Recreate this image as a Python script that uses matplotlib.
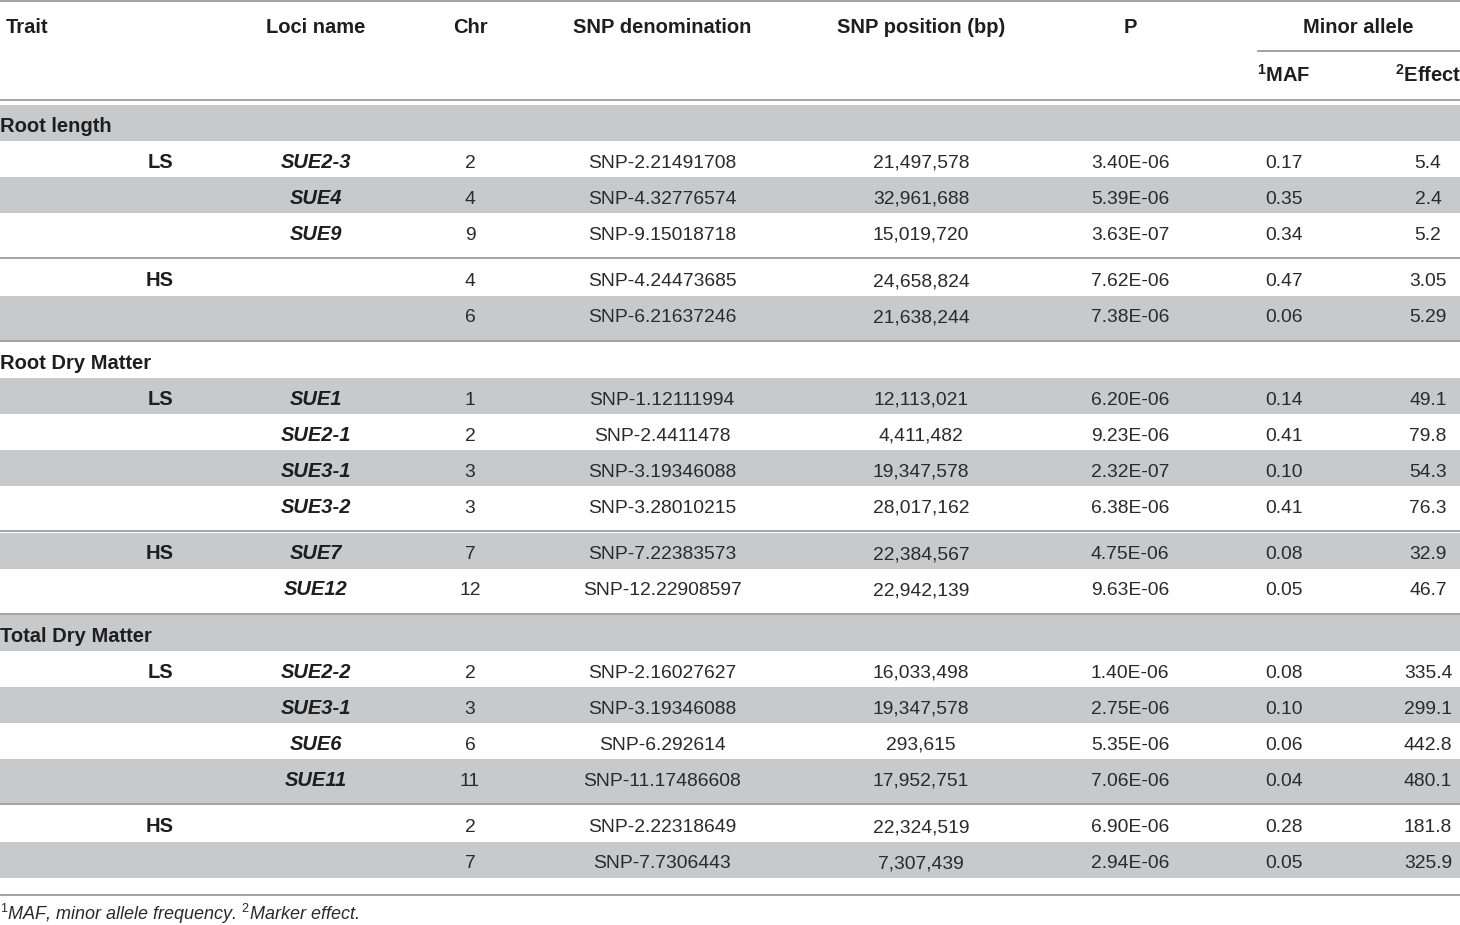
import matplotlib
matplotlib.use("Agg")
import matplotlib.pyplot as plt

# ---------------- data ----------------
traits = ["Root length", "Root Dry Matter", "Total Dry Matter"]
row_trait = (["Root length"] * 5 + ["Root Dry Matter"] * 6 + ["Total Dry Matter"] * 6)
row_env = ["LS", "LS", "LS", "HS", "HS",
           "LS", "LS", "LS", "LS", "HS", "HS",
           "LS", "LS", "LS", "LS", "HS", "HS"]
loci = ["SUE2-3", "SUE4", "SUE9", "", "",
        "SUE1", "SUE2-1", "SUE3-1", "SUE3-2", "SUE7", "SUE12",
        "SUE2-2", "SUE3-1", "SUE6", "SUE11", "", ""]
chrom = [2, 4, 9, 4, 6, 1, 2, 3, 3, 7, 12, 2, 3, 6, 11, 2, 7]
snp = ["SNP-2.21491708", "SNP-4.32776574", "SNP-9.15018718", "SNP-4.24473685",
       "SNP-6.21637246", "SNP-1.12111994", "SNP-2.4411478", "SNP-3.19346088",
       "SNP-3.28010215", "SNP-7.22383573", "SNP-12.22908597", "SNP-2.16027627",
       "SNP-3.19346088", "SNP-6.292614", "SNP-11.17486608", "SNP-2.22318649",
       "SNP-7.7306443"]
snp_pos = [21497578, 32961688, 15019720, 24658824, 21638244, 12113021, 4411482,
           19347578, 28017162, 22384567, 22942139, 16033498, 19347578, 293615,
           17952751, 22324519, 7307439]
p_vals = ["3.40E-06", "5.39E-06", "3.63E-07", "7.62E-06", "7.38E-06", "6.20E-06",
          "9.23E-06", "2.32E-07", "6.38E-06", "4.75E-06", "9.63E-06", "1.40E-06",
          "2.75E-06", "5.35E-06", "7.06E-06", "6.90E-06", "2.94E-06"]
maf = ["0.17", "0.35", "0.34", "0.47", "0.06", "0.14", "0.41", "0.10", "0.41",
       "0.08", "0.05", "0.08", "0.10", "0.06", "0.04", "0.28", "0.05"]
effect = ["5.4", "2.4", "5.2", "3.05", "5.29", "49.1", "79.8", "54.3", "76.3",
          "32.9", "46.7", "335.4", "299.1", "442.8", "480.1", "181.8", "325.9"]

headers = ["Trait", "Loci name", "Chr", "SNP denomination", "SNP position (bp)", "P"]
sub_header = "Minor allele"
sub_cols = [r"$^{\mathbf{1}}$MAF", r"$^{\mathbf{2}}$Effect"]
footnote = r"$^{\mathit{1}}$MAF, minor allele frequency. $^{\mathit{2}}$Marker effect."

# ---------------- style / layout ----------------
W, H = 1460, 925
FONT = "Liberation Sans"
plt.rcParams["mathtext.fontset"] = "custom"
plt.rcParams["mathtext.rm"] = FONT
plt.rcParams["mathtext.it"] = FONT + ":italic"
plt.rcParams["mathtext.bf"] = FONT + ":bold"
FS = 13.9
FSB = 14.5
GREY = "#c8c9cb"
LINE = "#a3a3a3"
TXT = "#2a2a2a"
BOLD = "#1e1e1e"
LW = 1.4

col_x = {"env": 160, "loci": 316, "chr": 470, "snp": 662, "pos": 921,
         "p": 1130, "maf": 1284, "eff": 1428}
header_x = [6, 316, 470, 662, 921, 1130]

# shading pattern of the 20 body rows (group rows included)
shaded = [True, False, True, False, False, True,
          False, True, False, True, False, True, False,
          True, False, True, False, True, False, True]

ROW_H = 36.0
PAD = 9.0
GAP = 1.5
TXT_OFF = 26.8  # baseline offset from row top

fig = plt.figure(figsize=(W / 100, H / 100), dpi=100)
ax = fig.add_axes([0, 0, 1, 1])
ax.set_xlim(0, W)
ax.set_ylim(H, 0)
ax.axis("off")


def put(x, y, s, ha="center", weight="normal", style="normal", color=TXT, size=FS):
    ax.text(x, y, s, ha=ha, va="baseline", fontsize=size, fontfamily=FONT,
            fontweight=weight, fontstyle=style, color=color)


# header
ax.hlines(1, 0, W, color=LINE, lw=LW)
for hx, h in zip(header_x, headers):
    put(hx, 33, h, ha="left" if h == "Trait" else "center", weight="bold",
        color=BOLD, size=FSB)
put(1358, 33, sub_header, weight="bold", color=BOLD, size=FSB)
ax.hlines(51, 1257, W, color=LINE, lw=LW)
put(col_x["maf"], 82, sub_cols[0], weight="bold", color=BOLD, size=FSB)
put(col_x["eff"], 82, sub_cols[1], weight="bold", color=BOLD, size=FSB)
ax.hlines(100, 0, W, color=LINE, lw=LW)

# body
y = 105.0
ri = 0
n = len(row_trait)
for t in traits:
    top = y
    if shaded[ri]:
        ax.axhspan(top, top + ROW_H, color=GREY, lw=0)
    put(0, top + TXT_OFF, t, ha="left", weight="bold", color=BOLD, size=FSB)
    ri += 1
    y = top + ROW_H
    idx = [i for i in range(n) if row_trait[i] == t]
    for k, i in enumerate(idx):
        top = y
        first_env = (k == 0) or (row_env[idx[k - 1]] != row_env[i])
        last_env = (k == len(idx) - 1) or (row_env[idx[k + 1]] != row_env[i])
        final = (i == n - 1)
        bottom = top + ROW_H + (PAD if (last_env and not final) else 0)
        if shaded[ri]:
            ax.axhspan(top, bottom, color=GREY, lw=0)
        ty = top + TXT_OFF
        if first_env:
            put(col_x["env"], ty, row_env[i], weight="bold", color=BOLD, size=FSB)
        if loci[i]:
            put(col_x["loci"], ty, loci[i], weight="bold", style="italic",
                color=BOLD, size=FSB)
        put(col_x["chr"], ty, str(chrom[i]))
        put(col_x["snp"], ty, snp[i])
        put(col_x["pos"], ty, f"{snp_pos[i]:,}")
        put(col_x["p"], ty, p_vals[i])
        put(col_x["maf"], ty, maf[i])
        put(col_x["eff"], ty, effect[i])
        ri += 1
        if last_env and not final:
            ax.hlines(bottom, 0, W, color=LINE, lw=LW)
            y = bottom + GAP
        else:
            y = bottom

ax.hlines(895, 0, W, color=LINE, lw=LW)
put(0, 920, footnote, ha="left", style="italic", color=TXT, size=13.0)

fig.savefig("out.png", dpi=100)
